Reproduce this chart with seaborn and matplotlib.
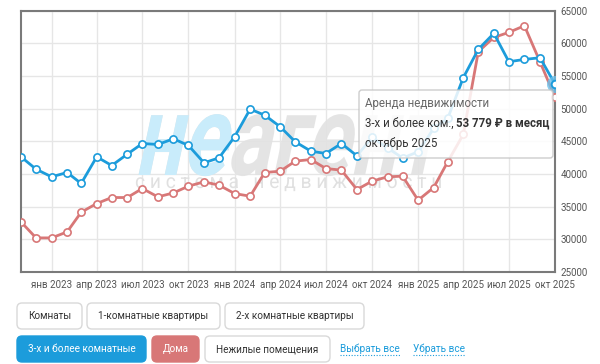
import numpy as np
import pandas as pd
import matplotlib
matplotlib.use('Agg')
import matplotlib.pyplot as plt
import seaborn as sns
from matplotlib.patches import FancyBboxPatch, PathPatch
from matplotlib.textpath import TextPath
from matplotlib.font_manager import FontProperties
from matplotlib.transforms import Affine2D
from matplotlib.lines import Line2D

# data (rent, RUB per month)
months = pd.date_range('2022-11-01', '2025-10-01', freq='MS')
flats_3plus = [42630, 40740, 39570, 40230, 38550, 42630, 41300, 43040, 44670, 44520, 45390, 44370,
               41710, 42480, 45700, 49930, 49010, 47230, 44930, 43500, 43140, 44670, 42780, 45600,
               44000, 42450, 43400, 46970, 48500, 54730, 59080, 61530, 57190, 57540, 57800, 53779]
houses = [32670, 30220, 30220, 31140, 34150, 35480, 36400, 36400, 37780, 36500, 37110, 38140,
          38800, 38290, 37010, 36600, 40230, 40430, 41970, 42220, 40840, 40590, 37620, 38900,
          39570, 39670, 35990, 37930, 41860, 46050, 58720, 60910, 61680, 62700, 57190, 51770]
tick_dates = pd.date_range('2023-01-01', '2025-10-01', freq='QS-JAN')
tick_labels = ['янв 2023', 'апр 2023', 'июл 2023', 'окт 2023',
               'янв 2024', 'апр 2024', 'июл 2024', 'окт 2024',
               'янв 2025', 'апр 2025', 'июл 2025', 'окт 2025']
y_ticks = [25000, 30000, 35000, 40000, 45000, 50000, 55000, 60000, 65000]

tooltip_title = 'Аренда недвижимости'
tooltip_series = '3-х и более ком., '
tooltip_value = '53 779 ₽ в месяц'
tooltip_date = 'октябрь 2025'

buttons_row1 = ['Комнаты', '1-комнатные квартиры', '2-х комнатные квартиры']
buttons_row2 = ['3-х и более комнатные', 'Дома', 'Нежилые помещения']
links = ['Выбрать все', 'Убрать все']

BLUE = '#1c9cdb'
RED = '#d87777'

sns.set_style('white')
plt.rcParams['font.family'] = ['Roboto', 'DejaVu Sans']

df = pd.DataFrame({'month': months, 'flats': flats_3plus, 'houses': houses})

W, H = 600, 364
fig = plt.figure(figsize=(W / 100, H / 100), dpi=100)
# pixel coords measured from the top-left corner
px = Affine2D().scale(1 / W, -1 / H).translate(0, 1) + fig.transFigure

ax = fig.add_axes([21 / W, 1 - 272 / H, 534 / W, 261.3 / H])

line_kw = dict(marker='o', markersize=5.2, markerfacecolor='white', markeredgewidth=1.2,
               linewidth=2.0, legend=False)
sns.lineplot(data=df, x='month', y='houses', color=RED, markeredgecolor=RED, ax=ax, zorder=3, **line_kw)
sns.lineplot(data=df, x='month', y='flats', color=BLUE, markeredgecolor=BLUE, ax=ax, zorder=4, **line_kw)

# highlighted last point
ax.scatter([months[-1]], [flats_3plus[-1]], s=150, color='#6cc0ea', alpha=0.8, zorder=5, linewidths=0)
ax.plot([months[-1]], [flats_3plus[-1]], marker='o', markersize=5.5, markerfacecolor='white',
        markeredgecolor=BLUE, markeredgewidth=1.4, zorder=6)

ax.set_xlim(months[0], months[-1])
ax.set_ylim(25000, 65000)
ax.set_xticks(tick_dates)
ax.set_xticklabels(tick_labels)
ax.set_yticks(y_ticks)
ax.set_yticklabels([str(v) for v in y_ticks])
ax.yaxis.tick_right()
ax.tick_params(axis='both', length=0, labelsize=7, colors='#555555')
ax.tick_params(axis='x', pad=6)
ax.tick_params(axis='y', pad=4)
ax.set_xlabel('')
ax.set_ylabel('')
ax.set_axisbelow(True)
ax.grid(True, color='#e6e6e6', linewidth=1)
for sp in ax.spines.values():
    sp.set_visible(True)
    sp.set_color('#7a7a7a')
    sp.set_linewidth(1.5)

# watermark logo
fp_logo = FontProperties(family='Roboto', weight='bold')
word = TextPath((0, 0), 'неагент', size=1, prop=fp_logo)
part = TextPath((0, 0), 'не', size=1, prop=fp_logo)
ext = word.get_extents()
sx = 298 / ext.width
sy = 62 / part.get_extents().height
logo_tr = Affine2D().scale(sx, sy).skew_deg(12, 0).translate(134, H - 175) \
    + Affine2D().scale(1 / W, 1 / H) + fig.transFigure
ax.add_patch(PathPatch(word, transform=logo_tr, facecolor='#e2e2e2', edgecolor='none', alpha=0.9, zorder=1))
ax.add_patch(PathPatch(part, transform=logo_tr, facecolor='#c9ecfb', edgecolor='none', zorder=1.1))
fp_sub = FontProperties(family='Roboto')
sub = TextPath((0, 0), 'с и с т е м а   н е д в и ж и м о с т и', size=1, prop=fp_sub)
sext = sub.get_extents()
sub_tr = Affine2D().scale(305 / sext.width, 11 / TextPath((0, 0), 'а', size=1, prop=fp_sub).get_extents().height) \
    .translate(135, H - 188) + Affine2D().scale(1 / W, 1 / H) + fig.transFigure
ax.add_patch(PathPatch(sub, transform=sub_tr, facecolor='#e0e0e0', edgecolor='none', zorder=1))

# tooltip
tip = FancyBboxPatch((359, 90), 194, 68, boxstyle='round,pad=0,rounding_size=3', transform=px,
                     facecolor='white', alpha=0.85, edgecolor='#c4c4c4', linewidth=1, zorder=10)
fig.add_artist(tip)
fig.text(365, 103, tooltip_title, transform=px, fontsize=8.3, color='#666666', va='center', zorder=11)
t1 = fig.text(365, 123, tooltip_series, transform=px, fontsize=8.3, color='#333333', va='center', zorder=11)
fig.add_artist(plt.Annotation(tooltip_value, xy=(1, 0), xycoords=t1, va='bottom', ha='left',
                              fontsize=8.3, fontweight='bold', color='#333333', zorder=11))
fig.text(365, 143, tooltip_date, transform=px, fontsize=8.3, color='#333333', va='center', zorder=11)

# filter buttons
def button(x0, y0, w, h, label, face, edge, tcolor):
    fig.add_artist(FancyBboxPatch((x0, y0), w, h, boxstyle='round,pad=0,rounding_size=5', transform=px,
                                  facecolor=face, edgecolor=edge, linewidth=1))
    fig.text(x0 + w / 2, y0 + h / 2, label, transform=px, fontsize=7.2, color=tcolor,
             ha='center', va='center')

row1_boxes = [(17, 65), (87, 133), (225, 139)]
for (x0, w), label in zip(row1_boxes, buttons_row1):
    button(x0, 303, w, 26, label, 'white', '#d9d9d9', '#333333')
row2_styles = [(17, 129, BLUE, BLUE, 'white'), (152, 47, RED, RED, 'white'), (205, 125, 'white', '#d9d9d9', '#333333')]
for (x0, w, face, edge, tc), label in zip(row2_styles, buttons_row2):
    button(x0, 336, w, 26, label, face, edge, tc)
for x0, label in zip([340, 413], links):
    t = fig.text(x0, 349, label, transform=px, fontsize=7.2, color=BLUE, ha='left', va='center')
    fig.canvas.draw()
    bb = t.get_window_extent()
    fig.add_artist(Line2D([bb.x0 / W, bb.x1 / W], [1 - 355 / H, 1 - 355 / H], transform=fig.transFigure,
                          color=BLUE, linestyle=(0, (1, 1.5)), linewidth=0.8))

fig.savefig('out.png', dpi=100)
